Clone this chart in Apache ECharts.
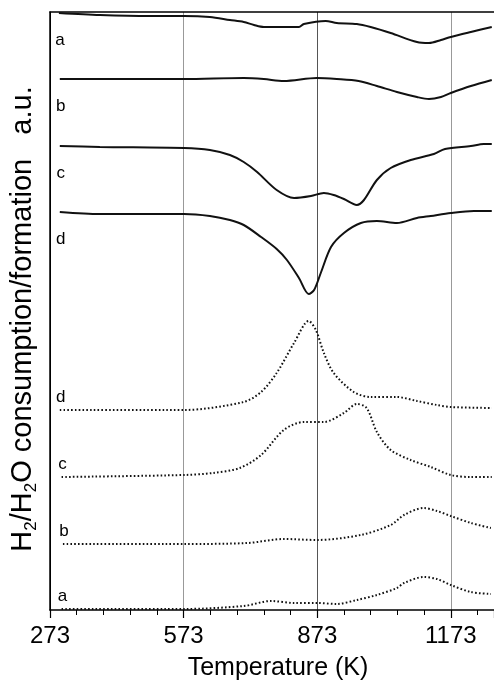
<!DOCTYPE html>
<html>
<head>
<meta charset="utf-8">
<style>html,body{margin:0;padding:0;background:#fff;}#c{width:494px;height:680px;}</style>
<script src="https://cdn.jsdelivr.net/npm/echarts@6/dist/echarts.min.js"></script>
</head>
<body>
<div id="c"></div>
<script>
// Temperature (K) ticks
const xTicks = [273, 573, 873, 1173];
const xMin = 273, xMax = 1270;

// Solid traces (H2 consumption), [T (K), signal a.u.]
const solidA = [[293,597],[385,595],[497,594],[574,594],[632,593],[677,590],[708,588],[731,585],[753,583],[800,583],[832,583],[843,586],[892,589],[917,587],[962,586],[993,583],[1038,577],[1097,568],[1124,567],[1151,570],[1173,573],[1218,578],[1265,583]];
const solidB = [[295,531],[385,531],[574,531],[708,532],[753,531],[798,529],[872,532],[917,531],[966,529],[1007,524],[1052,518],[1097,513],[1124,511],[1151,513],[1173,517],[1218,524],[1265,530]];
const solidC = [[295,464],[385,463],[574,462],[632,460],[677,455],[708,448],[738,438],[782,420],[821,412],[859,414],[888,417],[910,415],[933,411],[962,405],[978,410],[1007,430],[1038,442],[1083,450],[1135,456],[1160,461],[1218,464],[1247,466],[1265,466]];
const solidD = [[295,398],[385,396],[574,396],[632,394],[677,390],[708,385],[747,373],[782,361],[805,350],[832,332],[854,316],[866,320],[881,337],[904,363],[933,377],[971,387],[1007,389],[1052,387],[1097,392],[1128,394],[1173,397],[1225,399],[1265,399]];

// Dotted traces (H2O formation), [T (K), signal a.u.]
const dottedD = [[295,200],[574,200],[708,208],[747,218],[782,237],[821,267],[854,289],[870,280],[888,257],[910,237],[955,218],[993,213],[1052,213],[1097,209],[1142,205],[1173,203],[1265,202]];
const dottedC = [[299,133],[574,135],[639,137],[699,142],[747,155],[798,180],[843,188],[888,188],[933,197],[962,206],[984,202],[1007,178],[1038,160],[1083,150],[1128,143],[1173,135],[1218,133],[1265,133]];
const dottedB = [[302,66],[574,66],[717,67],[798,71],[872,70],[971,75],[1038,85],[1068,95],[1112,102],[1142,99],[1173,94],[1218,87],[1263,82]];
const dottedA = [[299,1],[574,1],[708,4],[769,9],[821,7],[872,7],[917,6],[962,10],[1007,15],[1052,22],[1068,27],[1112,33],[1142,31],[1173,25],[1218,18],[1263,16]];

const labels = ['a','b','c','d'];

const FONT = '"Liberation Sans", Arial, Helvetica, sans-serif';

function mkSeries(data, letter, dotted) {
  return {
    type: 'line',
    data: data,
    smooth: 0.3,
    symbol: 'none',
    showSymbol: false,
    silent: true,
    animation: false,
    lineStyle: dotted
      ? { color: '#111', width: 2, type: [1.6, 2.2], cap: 'butt' }
      : { color: '#111', width: 2 },
    markPoint: {
      silent: true,
      animation: false,
      symbol: 'circle',
      symbolSize: 1,
      itemStyle: { color: 'rgba(255,255,255,0)' },
      label: {
        show: true,
        formatter: letter,
        position: dotted ? 'top' : 'bottom',
        distance: dotted ? 4 : 18,
        fontSize: 17,
        fontFamily: FONT,
        color: '#000',
        offset: [1, 0]
      },
      data: [{ coord: data[0] }]
    },
    z: 3
  };
}

const chart = echarts.init(document.getElementById('c'), null, { renderer: 'canvas' });
chart.setOption({
  backgroundColor: '#fff',
  animation: false,
  grid: { left: 50, right: 0, top: 12, bottom: 70, containLabel: false, outerBoundsMode: 'none' },
  xAxis: [{
    type: 'value',
    min: xMin,
    max: xMax,
    interval: 300,
    name: 'Temperature (K)',
    nameLocation: 'middle',
    nameGap: 46,
    nameTextStyle: { fontSize: 25, color: '#000', fontFamily: FONT, padding: [0, 0, 0, 12] },
    axisLine: { show: true, lineStyle: { color: '#000', width: 1.5 } },
    axisTick: { show: true, length: 8, lineStyle: { color: '#000', width: 1.2 } },
    minorTick: { show: true, splitNumber: 5, length: 5, lineStyle: { color: '#000', width: 1 } },
    axisLabel: {
      fontSize: 24, color: '#000', fontFamily: FONT, margin: 14,
      showMaxLabel: false,
      formatter: v => (xTicks.indexOf(v) >= 0 ? String(v) : '')
    },
    splitLine: { show: true, lineStyle: { color: ['#000', '#999', '#555', '#999'], width: 1 } }
  }, {
    type: 'value',
    position: 'top',
    min: xMin,
    max: xMax,
    axisLine: { show: true, lineStyle: { color: '#000', width: 1.5 } },
    axisTick: { show: false },
    axisLabel: { show: false },
    splitLine: { show: false }
  }],
  yAxis: {
    type: 'value',
    min: 0,
    max: 598,
    name: '{n|H}{s|2}{n|/H}{s|2}{n|O consumption/formation   a.u.}',
    nameLocation: 'middle',
    nameRotate: 90,
    nameGap: 10,
    nameTextStyle: {
      color: '#000',
      fontFamily: FONT,
      fontSize: 29,
      padding: [0, 0, 0, -16],
      rich: {
        n: { fontSize: 29, fontFamily: FONT, color: '#000', lineHeight: 34 },
        s: { fontSize: 17, fontFamily: FONT, color: '#000', lineHeight: 20, verticalAlign: 'bottom' }
      }
    },
    axisLine: { show: true, lineStyle: { color: '#000', width: 1.5 } },
    axisTick: { show: false },
    axisLabel: { show: false },
    splitLine: { show: false }
  },
  series: [
    mkSeries(solidA, labels[0], false),
    mkSeries(solidB, labels[1], false),
    mkSeries(solidC, labels[2], false),
    mkSeries(solidD, labels[3], false),
    mkSeries(dottedD, labels[3], true),
    mkSeries(dottedC, labels[2], true),
    mkSeries(dottedB, labels[1], true),
    mkSeries(dottedA, labels[0], true)
  ]
});
</script>
</body>
</html>
